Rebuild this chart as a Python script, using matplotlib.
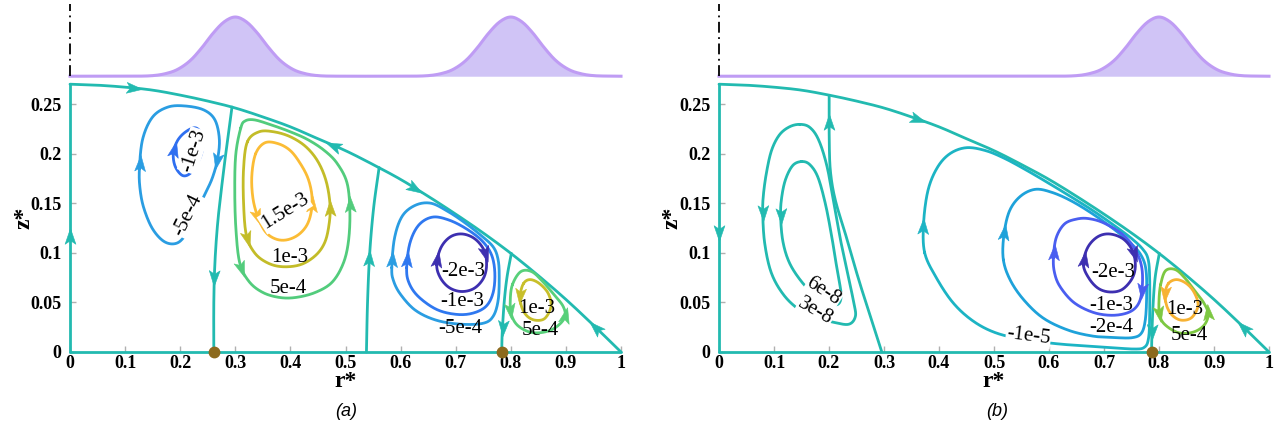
import numpy as np
import matplotlib
matplotlib.use("Agg")
import matplotlib.pyplot as plt
from matplotlib.markers import MarkerStyle
from matplotlib.path import Path
from matplotlib.transforms import Affine2D

plt.rcParams['font.family'] = ['Liberation Serif', 'DejaVu Serif']

# ---------------- data ----------------
X_TICKS = [0, 0.1, 0.2, 0.3, 0.4, 0.5, 0.6, 0.7, 0.8, 0.9, 1.0]
X_TICK_LABELS = ['0', '0.1', '0.2', '0.3', '0.4', '0.5', '0.6', '0.7', '0.8', '0.9', '1']
Y_TICKS = [0, 0.05, 0.1, 0.15, 0.2, 0.25]
Y_TICK_LABELS = ['0', '0.05', '0.1', '0.15', '0.2', '0.25']

# free surface of the drop
SURF_R = [0, .05, .10, .15, .20, .25, .30, .35, .40, .45, .50, .55, .60, .65, .70, .75, .80, .85, .90, .95, 1.0]
SURF_Z = [.270, .269, .267, .264, .259, .253, .246, .237, .227, .215, .203, .189, .174, .157, .139, .120, .0995, .077, .053, .027, 0]

# heating profile above each panel (relative height)
PROF_R = [0, 0.10, 0.15, 0.18, 0.20, 0.22, 0.24, 0.26, 0.28, 0.30, 0.32, 0.34, 0.36, 0.38, 0.40, 0.42, 0.45,
          0.50, 0.60, 0.65, 0.68, 0.70, 0.72, 0.74, 0.76, 0.78, 0.80, 0.82, 0.84, 0.86, 0.88, 0.90, 0.92, 0.95, 1.0]
PROF_A_H = [0, 0, 0.01, 0.06, 0.14, 0.28, 0.49, 0.73, 0.92, 1.0, 0.92, 0.73, 0.49, 0.28, 0.14, 0.06, 0.01,
            0, 0, 0.01, 0.06, 0.14, 0.28, 0.49, 0.73, 0.92, 1.0, 0.92, 0.73, 0.49, 0.28, 0.14, 0.06, 0.01, 0]
PROF_B_H = [0, 0, 0, 0, 0, 0, 0, 0, 0, 0, 0, 0, 0, 0, 0, 0, 0,
            0, 0, 0.01, 0.06, 0.14, 0.28, 0.49, 0.73, 0.92, 1.0, 0.92, 0.73, 0.49, 0.28, 0.14, 0.06, 0.01, 0]

# ---- panel (a) streamlines, points listed in flow direction ----
A_SEP1 = [(0.294, 0.247), (0.285, 0.21), (0.276, 0.17), (0.268, 0.13), (0.263, 0.09), (0.261, 0.05), (0.261, 0.0)]
A_SEP2 = [(0.538, 0.0), (0.540, 0.05), (0.544, 0.10), (0.551, 0.145), (0.561, 0.186)]
A_SEP3 = [(0.801, 0.0995), (0.793, 0.075), (0.788, 0.050), (0.7845, 0.020), (0.7835, 0.0)]
A_M5E4_1 = [(0.126, 0.185), (0.132, 0.215), (0.150, 0.237), (0.178, 0.247), (0.210, 0.248), (0.243, 0.244),
            (0.263, 0.234), (0.271, 0.215), (0.268, 0.195), (0.258, 0.175), (0.243, 0.157), (0.228, 0.139),
            (0.213, 0.121), (0.195, 0.110), (0.172, 0.111), (0.150, 0.124), (0.134, 0.145), (0.127, 0.165)]
A_M1E3_1 = [(0.1875, 0.200), (0.195, 0.213), (0.210, 0.222), (0.228, 0.226), (0.240, 0.218), (0.240, 0.203),
            (0.231, 0.190), (0.218, 0.180), (0.204, 0.178), (0.191, 0.187)]
A_5E4_2 = [(0.310, 0.226), (0.301, 0.200), (0.299, 0.165), (0.301, 0.125), (0.308, 0.090), (0.325, 0.071),
           (0.350, 0.060), (0.380, 0.055), (0.410, 0.055), (0.445, 0.060), (0.475, 0.070), (0.495, 0.088),
           (0.505, 0.110), (0.508, 0.140), (0.503, 0.170), (0.485, 0.190), (0.462, 0.203), (0.432, 0.214),
           (0.400, 0.222), (0.365, 0.229), (0.335, 0.234), (0.318, 0.233)]
A_1E3_2 = [(0.322, 0.212), (0.315, 0.185), (0.315, 0.150), (0.320, 0.118), (0.335, 0.100), (0.358, 0.090),
           (0.385, 0.086), (0.418, 0.088), (0.445, 0.097), (0.462, 0.110), (0.470, 0.128), (0.472, 0.148),
           (0.465, 0.172), (0.450, 0.192), (0.428, 0.207), (0.400, 0.217), (0.370, 0.222), (0.343, 0.222)]
A_15E3_2 = [(0.337, 0.200), (0.330, 0.178), (0.332, 0.155), (0.341, 0.136), (0.355, 0.121), (0.373, 0.114),
            (0.393, 0.113), (0.414, 0.118), (0.430, 0.128), (0.438, 0.142), (0.439, 0.158), (0.432, 0.175),
            (0.418, 0.190), (0.400, 0.203), (0.378, 0.210), (0.354, 0.211)]
A_M5E4_3 = [(0.584, 0.085), (0.589, 0.115), (0.603, 0.137), (0.627, 0.148), (0.655, 0.150), (0.685, 0.142),
            (0.715, 0.131), (0.745, 0.118), (0.768, 0.106), (0.777, 0.093), (0.779, 0.075), (0.777, 0.052),
            (0.768, 0.036), (0.750, 0.029), (0.710, 0.028), (0.665, 0.032), (0.627, 0.042), (0.600, 0.058),
            (0.587, 0.072)]
A_M1E3_3 = [(0.611, 0.085), (0.617, 0.110), (0.633, 0.128), (0.658, 0.136), (0.688, 0.133), (0.720, 0.124),
            (0.748, 0.112), (0.765, 0.098), (0.771, 0.080), (0.768, 0.060), (0.755, 0.046), (0.730, 0.039),
            (0.700, 0.038), (0.665, 0.043), (0.632, 0.056), (0.615, 0.070)]
A_M2E3_3 = [(0.6655, 0.088), (0.673, 0.105), (0.690, 0.116), (0.712, 0.119), (0.735, 0.114), (0.752, 0.102),
            (0.756, 0.087), (0.750, 0.074), (0.733, 0.064), (0.710, 0.061), (0.688, 0.065), (0.672, 0.075)]
A_5E4_4 = [(0.803, 0.068), (0.799, 0.052), (0.801, 0.038), (0.812, 0.027), (0.835, 0.020), (0.860, 0.020),
           (0.882, 0.025), (0.898, 0.035), (0.895, 0.046), (0.878, 0.058), (0.858, 0.071), (0.838, 0.081),
           (0.818, 0.081)]
A_1E3_4 = [(0.823, 0.069), (0.817, 0.057), (0.820, 0.045), (0.830, 0.036), (0.845, 0.032), (0.862, 0.034),
           (0.873, 0.046), (0.868, 0.059), (0.852, 0.069), (0.835, 0.073)]

# ---- panel (b) streamlines ----
B_SEP1 = [(0.296, 0.0), (0.2745, 0.037), (0.2533, 0.0743), (0.232, 0.115), (0.212, 0.152), (0.203, 0.180),
          (0.2005, 0.210), (0.2003, 0.2585)]
B_SEP2 = [(0.8006, 0.0995), (0.793, 0.075), (0.789, 0.045), (0.787, 0.015), (0.7865, 0.0)]
B_3E8 = [(0.147, 0.2295), (0.128, 0.227), (0.110, 0.219), (0.096, 0.204), (0.087, 0.183), (0.081, 0.160),
         (0.0795, 0.141), (0.083, 0.110), (0.095, 0.080), (0.117, 0.058), (0.145, 0.043), (0.175, 0.035),
         (0.208, 0.030), (0.236, 0.028), (0.248, 0.036), (0.245, 0.050), (0.235, 0.076), (0.222, 0.110),
         (0.209, 0.150), (0.196, 0.188), (0.181, 0.214), (0.165, 0.2265)]
B_6E8 = [(0.150, 0.192), (0.134, 0.188), (0.121, 0.174), (0.114, 0.156), (0.112, 0.138), (0.116, 0.112),
         (0.128, 0.090), (0.150, 0.071), (0.175, 0.057), (0.198, 0.050), (0.216, 0.048), (0.222, 0.058),
         (0.215, 0.082), (0.206, 0.113), (0.194, 0.148), (0.180, 0.176), (0.165, 0.189)]
B_M1E5 = [(0.374, 0.100), (0.372, 0.130), (0.380, 0.163), (0.397, 0.186), (0.420, 0.200), (0.450, 0.206),
          (0.485, 0.203), (0.52, 0.195), (0.56, 0.183), (0.60, 0.170), (0.64, 0.1565), (0.68, 0.1425),
          (0.72, 0.127), (0.75, 0.1145), (0.770, 0.104), (0.780, 0.094), (0.783, 0.075), (0.783, 0.035),
          (0.781, 0.014), (0.774, 0.005), (0.755, 0.003), (0.70, 0.005), (0.62, 0.008), (0.55, 0.013),
          (0.50, 0.020), (0.46, 0.032), (0.425, 0.050), (0.395, 0.075)]
B_M2E4 = [(0.517, 0.093), (0.518, 0.118), (0.528, 0.142), (0.548, 0.157), (0.575, 0.164), (0.605, 0.161),
          (0.640, 0.1525), (0.680, 0.139), (0.720, 0.123), (0.750, 0.109), (0.768, 0.097), (0.7765, 0.082),
          (0.7775, 0.055), (0.775, 0.032), (0.768, 0.019), (0.752, 0.0145), (0.720, 0.0145), (0.680, 0.016),
          (0.635, 0.022), (0.590, 0.034), (0.555, 0.052), (0.530, 0.072)]
B_M1E3 = [(0.608, 0.095), (0.613, 0.115), (0.628, 0.129), (0.650, 0.134), (0.672, 0.1345), (0.700, 0.130),
          (0.735, 0.118), (0.758, 0.102), (0.769, 0.084), (0.769, 0.062), (0.762, 0.048), (0.745, 0.040),
          (0.715, 0.037), (0.680, 0.040), (0.645, 0.050), (0.620, 0.066), (0.610, 0.080)]
B_M2E3 = [(0.6625, 0.088), (0.670, 0.105), (0.688, 0.116), (0.710, 0.119), (0.735, 0.114), (0.752, 0.102),
          (0.757, 0.087), (0.751, 0.074), (0.733, 0.063), (0.711, 0.0605), (0.690, 0.064), (0.673, 0.074)]
B_5E4 = [(0.803, 0.068), (0.800, 0.052), (0.801, 0.038), (0.810, 0.028), (0.835, 0.0195), (0.862, 0.020),
         (0.882, 0.027), (0.8895, 0.038), (0.882, 0.049), (0.866, 0.061), (0.848, 0.074), (0.830, 0.083),
         (0.812, 0.082)]
B_1E3 = [(0.817, 0.069), (0.811, 0.058), (0.815, 0.045), (0.826, 0.036), (0.842, 0.032), (0.860, 0.035),
         (0.871, 0.047), (0.864, 0.060), (0.850, 0.069), (0.832, 0.073)]

STAG_A_R = [0.261, 0.7835]
STAG_B_R = [0.7865]

# contour labels: text, r, z, rotation
LABELS_A = [('-5e-4', 0.214, 0.138, 64), ('-1e-3', 0.224, 0.203, 72), ('1.5e-3', 0.390, 0.1415, 32),
            ('1e-3', 0.399, 0.095, 0), ('5e-4', 0.396, 0.064, 0), ('-2e-3', 0.713, 0.081, 0),
            ('-1e-3', 0.712, 0.0505, 0), ('-5e-4', 0.709, 0.0235, 0), ('1e-3', 0.847, 0.044, 0),
            ('5e-4', 0.853, 0.0215, 0)]
LABELS_B = [('6e-8', 0.1897, 0.0608, -33), ('3e-8', 0.1745, 0.0406, -30), ('-1e-5', 0.5624, 0.0155, -7),
            ('-2e-4', 0.713, 0.0245, 0), ('-1e-3', 0.714, 0.047, 0), ('-2e-3', 0.717, 0.080, 0),
            ('1e-3', 0.847, 0.0425, 0), ('5e-4', 0.856, 0.0165, 0)]
LABEL_ON_LINE_A = [True, True, True, False, False, False, False, False, False, False]
LABEL_ON_LINE_B = [True, True, True, False, False, False, False, False]

# ---------------- styles ----------------
TEAL = '#22bab0'
LW = 2.0
Z_SCALE = 1.8
SERIF = ['Liberation Serif', 'DejaVu Serif']

A_CURVES = [  # (points, colour, closed, arrow positions)
    (A_SEP1, TEAL, False, [(0.262, 0.076)]),
    (A_SEP2, TEAL, False, [(0.5415, 0.094)]),
    (A_SEP3, TEAL, False, [(0.784, 0.0256)]),
    (A_M5E4_1, '#2a9de2', True, [(0.126, 0.19), (0.269, 0.1935)]),
    (A_M1E3_1, '#2f6ff0', True, [(0.1875, 0.204)]),
    (A_5E4_2, '#52cc7c', True, [(0.3085, 0.0843), (0.508, 0.148)]),
    (A_1E3_2, '#c3bc28', True, [(0.3206, 0.1146), (0.472, 0.1448)]),
    (A_15E3_2, '#fbbc35', True, [(0.3418, 0.138), (0.4398, 0.148)]),
    (A_M5E4_3, '#2a9de2', True, [(0.584, 0.0927)]),
    (A_M1E3_3, '#2f78f0', True, [(0.611, 0.0927)]),
    (A_M2E3_3, '#3d2fb0', True, [(0.6655, 0.0927), (0.753, 0.0995)]),
    (A_5E4_4, '#58d07a', True, [(0.7985, 0.0423), (0.898, 0.036)]),
    (A_1E3_4, '#c8bf2a', True, [(0.8167, 0.0575)]),
]
B_CURVES = [
    (B_SEP1, TEAL, False, [(0.2003, 0.232)]),
    (B_SEP2, TEAL, False, [(0.787, 0.022)]),
    (B_3E8, TEAL, True, [(0.0795, 0.141)]),
    (B_6E8, TEAL, True, [(0.112, 0.138)]),
    (B_M1E5, '#1cb4c4', True, [(0.372, 0.126)]),
    (B_M2E4, '#1ea2da', True, [(0.517, 0.12)]),
    (B_M1E3, '#4a5ef0', True, [(0.608, 0.0995), (0.769, 0.0625)]),
    (B_M2E3, '#3d2fb0', True, [(0.6625, 0.0927), (0.754, 0.0995)]),
    (B_5E4, '#7dc842', True, [(0.800, 0.039), (0.8895, 0.039)]),
    (B_1E3, '#f7b233', True, [(0.811, 0.0591)]),
]
A_EDGE_ARROWS = [(0.116, 1)]
B_EDGE_ARROWS = [(0.12, -1)]
A_SURF_ARROWS = [(0.115, 1), (0.481, -1), (0.626, 1), (0.956, -1)]
B_SURF_ARROWS = [(0.359, 1), (0.953, -1)]

ARROW_PATH = Path([(1, 0), (-0.75, 0.6), (-0.35, 0), (-0.75, -0.6), (1, 0)],
                  [Path.MOVETO, Path.LINETO, Path.LINETO, Path.LINETO, Path.CLOSEPOLY])


def smooth(pts, closed, n=24):
    P = np.asarray(pts, float).copy()
    P[:, 1] *= Z_SCALE
    if closed:
        P = np.vstack([P[-1], P, P[0], P[1]])
    else:
        P = np.vstack([2 * P[0] - P[1], P, 2 * P[-1] - P[-2]])
    out = []
    t = np.linspace(0, 1, n, endpoint=False)[:, None]
    for i in range(1, len(P) - 2):
        p0, p1, p2, p3 = P[i - 1], P[i], P[i + 1], P[i + 2]
        seg = 0.5 * ((2 * p1) + (-p0 + p2) * t + (2 * p0 - 5 * p1 + 4 * p2 - p3) * t ** 2
                     + (-p0 + 3 * p1 - 3 * p2 + p3) * t ** 3)
        out.append(seg)
    out.append(P[-2][None, :])
    C = np.vstack(out)
    C[:, 1] /= Z_SCALE
    return C


def arrow_on(ax, C, r, z, color, closed, sign=1):
    d = (C[:, 0] - r) ** 2 + ((C[:, 1] - z) * Z_SCALE) ** 2
    i = int(np.argmin(d))
    n = len(C) - 1 if closed else len(C)
    if closed:
        i0, i1 = C[(i - 3) % n], C[(i + 3) % n]
    else:
        i0, i1 = C[max(i - 3, 0)], C[min(i + 3, n - 1)]
    p0 = ax.transData.transform(i0)
    p1 = ax.transData.transform(i1)
    ang = np.degrees(np.arctan2(p1[1] - p0[1], p1[0] - p0[0]))
    if sign < 0:
        ang += 180
    m = MarkerStyle(ARROW_PATH, transform=Affine2D().rotate_deg(ang))
    ax.plot([C[i, 0]], [C[i, 1]], linestyle='none', marker=m, ms=13, color=color,
            mec=color, mew=0.4, clip_on=False, zorder=6)


def draw_panel(ax, curves, edge_arrows, surf_arrows, stag, labels, on_line):
    ax.set_xlim(0, 1)
    ax.set_ylim(0, 0.27)
    for s in ax.spines.values():
        s.set_visible(False)
    ax.set_xticks(X_TICKS)
    ax.set_xticklabels(X_TICK_LABELS, fontweight='bold', fontsize=13, family=SERIF)
    ax.set_yticks(Y_TICKS)
    ax.set_yticklabels(Y_TICK_LABELS, fontweight='bold', fontsize=13, family=SERIF)
    ax.tick_params(axis='x', direction='in', length=4, width=1, color='#b0b0b0', pad=2)
    ax.tick_params(axis='y', direction='in', length=4, width=1, color='#b0b0b0', pad=6)
    # boundary
    surf = smooth(list(zip(SURF_R, SURF_Z)), False, n=10)
    edge = np.column_stack([np.zeros(50), np.linspace(0, SURF_Z[0], 50)])
    bottom = np.array([[0, 0], [1, 0]])
    for C in (surf, edge, bottom):
        ax.plot(C[:, 0], C[:, 1], color=TEAL, lw=LW, clip_on=False, zorder=2, solid_capstyle='round')
    for z, sgn in edge_arrows:
        arrow_on(ax, edge, 0, z, TEAL, False, sgn)
    for r, sgn in surf_arrows:
        arrow_on(ax, surf, r, np.interp(r, SURF_R, SURF_Z), TEAL, False, sgn)
    for pts, col, closed, arrs in curves:
        C = smooth(pts, closed)
        ax.plot(C[:, 0], C[:, 1], color=col, lw=LW, clip_on=False, zorder=3, solid_capstyle='round')
        for r, z in arrs:
            arrow_on(ax, C, r, z, col, closed)
    ax.plot(stag, [0] * len(stag), linestyle='none', marker='o', ms=7.5, color='#8c6a1e', zorder=7,
            clip_on=False)
    for (txt, r, z, rot), ol in zip(labels, on_line):
        kw = {}
        if ol:
            kw['bbox'] = dict(facecolor='white', edgecolor='none', pad=0.5)
        ax.text(r, z, txt, fontsize=15, rotation=rot, ha='center', va='center', family=SERIF,
                rotation_mode='anchor', zorder=8, **kw)


def draw_profile(ax, h):
    ax.set_xlim(0, 1)
    ax.set_ylim(-0.03, 1.22)
    ax.axis('off')
    P = smooth(list(zip(PROF_R, h)), False, n=8)
    P[:, 1] = np.clip(P[:, 1], 0, None)
    ax.fill_between(P[:, 0], 0, P[:, 1], color='#d0c4f6', lw=0, zorder=1)
    ax.plot(P[:, 0], P[:, 1], color='#bf9cf4', lw=2.2, clip_on=False, zorder=2)
    ax.plot([0, 0], [0, 1.22], color='black', lw=1.3, linestyle=(0, (6, 2.5, 1, 2.5)), clip_on=False, zorder=3)


W, H = 1275, 433
fig = plt.figure(figsize=(W / 100, H / 100), dpi=100)

for left_px, width_px, curves, e_arr, s_arr, stag, labels, onl, prof, zx, cap, cap_x in [
        (70, 551, A_CURVES, A_EDGE_ARROWS, A_SURF_ARROWS, STAG_A_R, LABELS_A, LABEL_ON_LINE_A, PROF_A_H,
         -0.0835, '(a)', 346),
        (719, 550, B_CURVES, B_EDGE_ARROWS, B_SURF_ARROWS, STAG_B_R, LABELS_B, LABEL_ON_LINE_B, PROF_B_H,
         -0.0855, '(b)', 997)]:
    ax = fig.add_axes([left_px / W, 1 - 352 / H, width_px / W, (352 - 84.2) / H])
    draw_panel(ax, curves, e_arr, s_arr, stag, labels, onl)
    ax.text(zx, 0.5, 'z*', transform=ax.transAxes, rotation=90, ha='center', va='center',
            fontsize=17, fontweight='bold', family=SERIF)
    ax.text(0.5, -0.11, 'r*', transform=ax.transAxes, ha='center', va='center',
            fontsize=17, fontweight='bold', family=SERIF)
    axp = fig.add_axes([left_px / W, 1 - 78 / H, width_px / W, 74 / H])
    draw_profile(axp, prof)
    fig.text(cap_x / W, 1 - 412 / H, cap, ha='center', va='center', fontsize=13,
             family=['Liberation Sans', 'DejaVu Sans'], style='italic')

fig.savefig('out.png', dpi=100)
